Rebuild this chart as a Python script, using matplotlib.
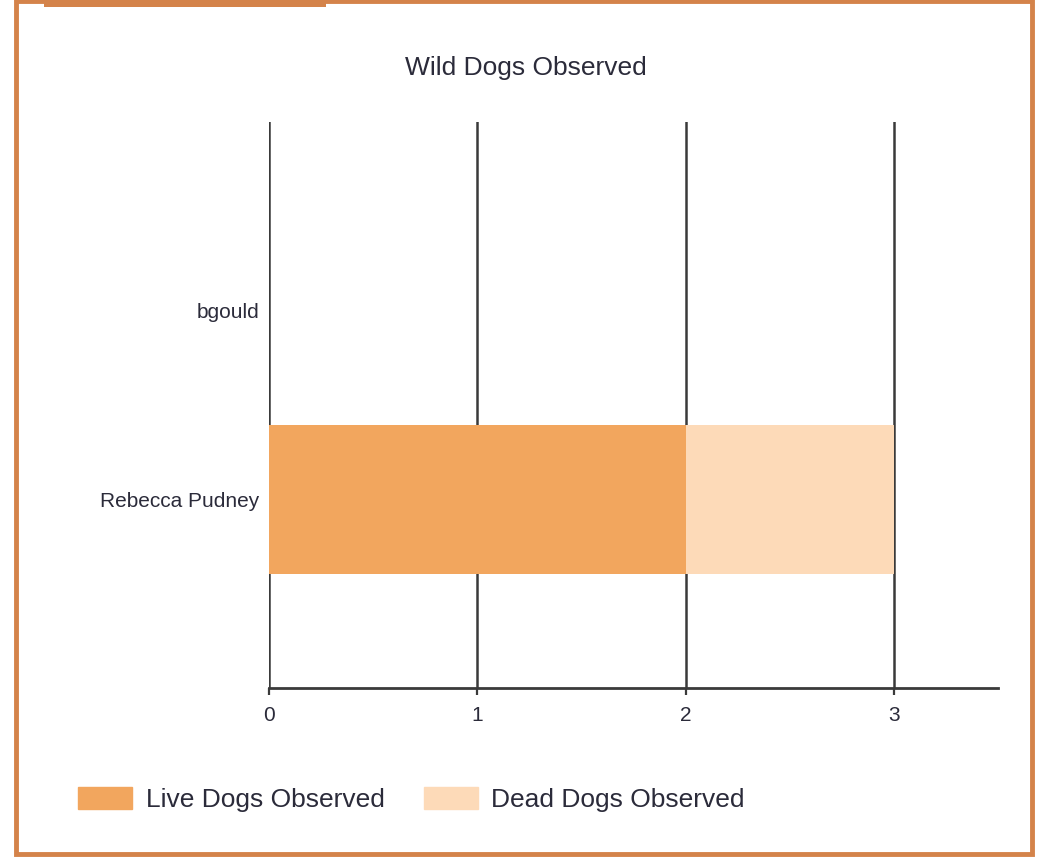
import matplotlib.pyplot as plt
from matplotlib.patches import Rectangle, Patch

# data
observers = ["Rebecca Pudney", "bgould"]
live_dogs = [2, 0]
dead_dogs = [1, 0]
x_ticks = [0, 1, 2, 3]

LIVE_COLOR = "#F2A65E"
DEAD_COLOR = "#FDDAB8"
FRAME_COLOR = "#D4834A"
LINE_COLOR = "#3a3a3a"
TEXT_COLOR = "#2b2b3a"

plt.rcParams['font.family'] = ['Liberation Sans', 'DejaVu Sans']

fig = plt.figure(figsize=(10.37, 8.57), dpi=100)
ax = fig.add_axes([0.2594, 0.1972, 0.9624 - 0.2594, 0.8576 - 0.1972])

y = list(range(len(observers)))
ax.barh(y, live_dogs, height=0.79, color=LIVE_COLOR, zorder=2)
ax.barh(y, dead_dogs, left=live_dogs, height=0.79, color=DEAD_COLOR, zorder=2)

ax.set_xlim(0, 3.5)
ax.set_ylim(-1, 2)
ax.set_xticks(x_ticks)
ax.set_xticklabels([str(t) for t in x_ticks], fontsize=15, color=TEXT_COLOR)
ax.set_yticks(y)
ax.set_yticklabels(observers, fontsize=15, color=TEXT_COLOR)
ax.tick_params(axis='y', length=0, pad=7)
ax.tick_params(axis='x', length=5, width=1.6, color=LINE_COLOR, pad=8)

ax.grid(axis='x', color=LINE_COLOR, linewidth=1.8, zorder=1)
ax.set_axisbelow(True)
for s in ["top", "right", "left"]:
    ax.spines[s].set_visible(False)
ax.spines["bottom"].set_color(LINE_COLOR)
ax.spines["bottom"].set_linewidth(2)

fig.text(0.507, 0.921, "Wild Dogs Observed", ha="center", va="center",
         fontsize=19, color=TEXT_COLOR)

handles = [Patch(color=LIVE_COLOR, label="Live Dogs Observed"),
           Patch(color=DEAD_COLOR, label="Dead Dogs Observed")]
fig.legend(handles=handles, loc="center left", bbox_to_anchor=(0.0755, 0.067),
           ncol=2, frameon=False, fontsize=19, handlelength=2.05, handleheight=0.87,
           handletextpad=0.5, columnspacing=1.5, labelcolor=TEXT_COLOR,
           borderpad=0, borderaxespad=0)

# frame around the card
fig.patches.append(Rectangle((0.0155, 0.004), 0.98, 0.995, transform=fig.transFigure,
                             fill=False, edgecolor=FRAME_COLOR, linewidth=3.5))
fig.patches.append(Rectangle((0.042, 0.992), 0.272, 0.008, transform=fig.transFigure,
                             color=FRAME_COLOR, linewidth=0))

fig.savefig("out.png", dpi=100, facecolor="white")
